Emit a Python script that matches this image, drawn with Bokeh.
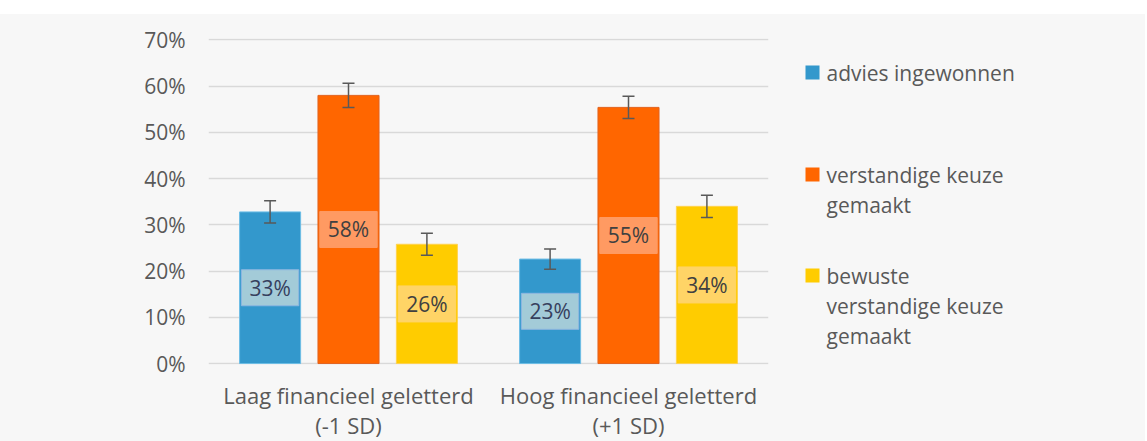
from bokeh.plotting import figure
from bokeh.models import (FactorRange, Range1d, ColumnDataSource, Whisker,
                          NumeralTickFormatter, FixedTicker, Spacer, TeeHead)
from bokeh.layouts import column, row
from bokeh.transform import dodge
from bokeh.embed import file_html
from bokeh.resources import INLINE
from bokeh.core.properties import value

# ---- data ----
groups = ["Laag financieel geletterd\n(-1 SD)", "Hoog financieel geletterd\n(+1 SD)"]
series_names = ["advies ingewonnen", "verstandige keuze\ngemaakt", "bewuste\nverstandige keuze\ngemaakt"]
advies = [0.328, 0.226]
verstandig = [0.580, 0.554]
bewust = [0.258, 0.340]
err_advies = [0.024, 0.022]
err_verstandig = [0.026, 0.024]
err_bewust = [0.024, 0.024]
y_ticks = [0.0, 0.1, 0.2, 0.3, 0.4, 0.5, 0.6, 0.7]

# ---- styles ----
FONT = "Open Sans"
TXT = "#595959"
BG = "#f7f7f7"
bar_colors = ["#3398cc", "#ff6600", "#ffcc00"]
bar_lines = ["#6cbde6", "#e2621e", "#ffd24d"]
box_colors = ["#a3cbd8", "#ff9a62", "#ffd466"]
box_lines = ["#8db6e0", "#ff9a62", "#ffd466"]
lbl_colors = ["#36405e", "#404040", "#404040"]
offsets = [-0.28, 0.0, 0.28]
BAR_W = 0.218

TOTAL_H = 427
p = figure(x_range=FactorRange(*groups), y_range=Range1d(-0.002, 0.703),
           frame_width=560, frame_height=326,
           min_border_left=208, min_border_right=10, min_border_top=24,
           min_border_bottom=TOTAL_H - 24 - 326,
           output_backend="svg", toolbar_location=None)
p.title = None
p.x_range.range_padding = 0
p.background_fill_color = BG
p.border_fill_color = BG
p.outline_line_color = None

vals = [advies, verstandig, bewust]
errs = [err_advies, err_verstandig, err_bewust]
for i in range(3):
    v = vals[i]
    e = errs[i]
    src = ColumnDataSource(dict(
        g=groups, top=v, mid=[x / 2 for x in v],
        upper=[a + b for a, b in zip(v, e)], lower=[a - b for a, b in zip(v, e)],
        lab=["%d%%" % round(x * 100) for x in v]))
    xd = dodge("g", offsets[i], range=p.x_range)
    p.vbar(x=xd, top="top", width=BAR_W, source=src, fill_color=bar_colors[i],
           line_color=bar_lines[i], line_width=1)
    p.rect(x=xd, y="mid", width=0.205, height=36, height_units="screen", source=src,
           fill_color=box_colors[i], line_color=box_lines[i], line_width=1)
    p.text(x=xd, y="mid", text="lab", source=src, text_align="center", text_baseline="middle",
           text_font=value(FONT), text_font_size="21px", text_color=lbl_colors[i])
    w = Whisker(source=src, base=xd, upper="upper", lower="lower", line_color="#595959",
                line_width=1.5, level="overlay",
                upper_head=TeeHead(size=12, line_color="#595959", line_width=1.5),
                lower_head=TeeHead(size=12, line_color="#595959", line_width=1.5))
    p.add_layout(w)

# axes
p.yaxis.ticker = FixedTicker(ticks=y_ticks)
p.yaxis.formatter = NumeralTickFormatter(format="0%")
p.yaxis.axis_line_color = None
p.yaxis.major_tick_line_color = None
p.yaxis.minor_tick_line_color = None
p.yaxis.major_label_standoff = 17
p.yaxis.major_label_text_font = FONT
p.yaxis.major_label_text_font_size = "21px"
p.yaxis.major_label_text_color = TXT

p.xaxis.axis_line_color = None
p.xaxis.major_tick_line_color = None
p.xaxis.minor_tick_line_color = None
p.xaxis.major_label_standoff = 9
p.xaxis.major_label_text_font = FONT
p.xaxis.major_label_text_font_size = "22px"
p.xaxis.major_label_text_color = TXT
p.xaxis.major_label_text_line_height = 1.0

p.xgrid.grid_line_color = None
p.ygrid.grid_line_color = "#d9d9d9"
p.ygrid.grid_line_width = 1.5

# ---- legend panel: a second figure whose frame is 1 unit = 1 pixel, y measured downward ----
LEG_W = 367
TOP = 14
DY = 26  # measured vertical offset of the legend panel's frame
leg = figure(x_range=Range1d(0, LEG_W), y_range=Range1d(TOTAL_H, 0),
             frame_width=LEG_W, frame_height=TOTAL_H,
             x_axis_location=None, y_axis_location=None,
             min_border=0, output_backend="svg", toolbar_location=None)
leg.title = None
leg.grid.visible = False
leg.outline_line_color = None
leg.background_fill_color = BG
leg.border_fill_color = BG

LEFT = 208 + 560 + 10  # page x where the legend panel starts
first_line = [74, 176, 277]  # page y of each item's first line
LINE = 30
sq_x, sq_y, txt_x, txt_y, txt = [], [], [], [], []
for i, name in enumerate(series_names):
    sq_x.append(812 - LEFT)
    sq_y.append(first_line[i] - TOP - DY)
    for j, line in enumerate(name.split("\n")):
        txt_x.append(826 - LEFT)
        txt_y.append(first_line[i] + LINE * j - TOP - DY)
        txt.append(line)
leg.rect(x=sq_x, y=sq_y, width=14, height=14, fill_color=bar_colors, line_color=None)
leg.text(x=txt_x, y=txt_y, text=txt, text_font=value(FONT), text_font_size="21px",
         text_color=TXT, text_baseline="middle", text_align="left")

body = row(p, leg, spacing=0, styles={"background-color": BG})
layout = column(Spacer(height=TOP), body, spacing=0)
open("out.html", "w").write(file_html(layout, INLINE))
